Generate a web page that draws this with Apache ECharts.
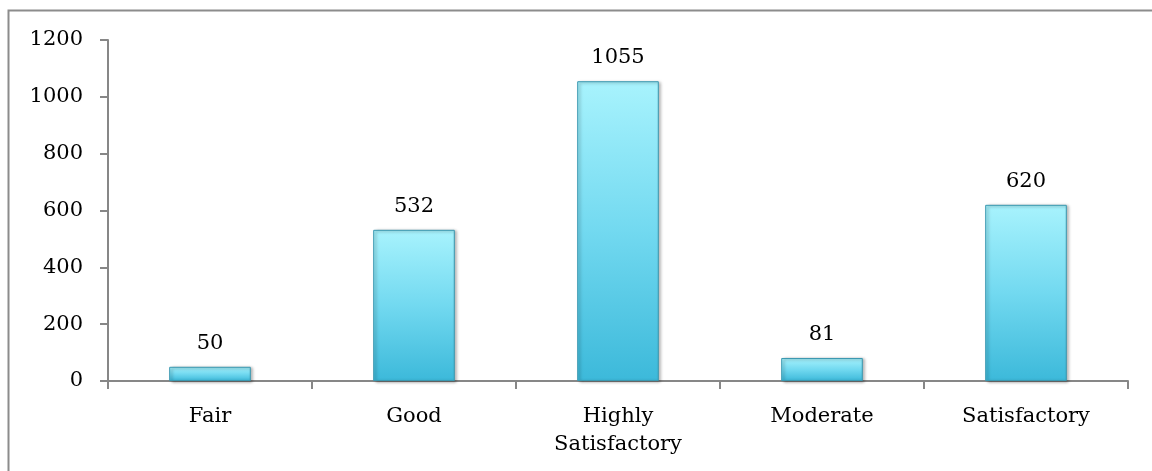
<!DOCTYPE html>
<html>
<head>
<meta charset="utf-8">
<script src="https://cdn.jsdelivr.net/npm/echarts@6/dist/echarts.min.js"></script>
<style>
  html, body { margin: 0; padding: 0; background: #fff; }
  #chart { width: 1152px; height: 471px; }
</style>
</head>
<body>
<div id="chart"></div>
<script>
// Rating categories and response counts
const categories = ['Fair', 'Good', 'Highly\nSatisfactory', 'Moderate', 'Satisfactory'];
const counts = [50, 532, 1055, 81, 620];
const yTicks = { min: 0, max: 1200, interval: 200 };

const FONT = 'DejaVu Serif';
const FONT_SIZE = 21;
const chart = echarts.init(document.getElementById('chart'));

chart.setOption({
  animation: false,
  backgroundColor: '#ffffff',
  graphic: [{
    type: 'rect',
    shape: { x: 8.5, y: 10.5, width: 1400, height: 800 },
    style: { fill: 'none', stroke: '#8c8c8c', lineWidth: 2 },
    silent: true
  }],
  grid: { left: 108, right: 24, top: 40, bottom: 90 },
  xAxis: {
    type: 'category',
    data: categories,
    axisLine: { lineStyle: { color: '#878787', width: 2 } },
    axisTick: { show: true, length: 8, lineStyle: { color: '#878787', width: 2 } },
    axisLabel: {
      color: '#000', fontFamily: FONT, fontSize: FONT_SIZE, margin: 22, lineHeight: 28,
      interval: 0
    }
  },
  yAxis: {
    type: 'value',
    min: yTicks.min, max: yTicks.max, interval: yTicks.interval,
    axisLine: { show: true, lineStyle: { color: '#878787', width: 2 } },
    axisTick: { show: true, length: 8, lineStyle: { color: '#878787', width: 2 } },
    splitLine: { show: false },
    axisLabel: {
      color: '#000', fontFamily: FONT, fontSize: FONT_SIZE, margin: 25,
      formatter: v => String(v)
    }
  },
  series: [{
    type: 'bar',
    data: counts,
    barWidth: '40%',
    itemStyle: {
      color: new echarts.graphic.LinearGradient(0, 0, 0, 1, [
        { offset: 0, color: '#a8f3fd' },
        { offset: 0.5, color: '#72d9f0' },
        { offset: 1, color: '#3cb9da' }
      ]),
      borderColor: '#3a98b0',
      borderWidth: 1,
      shadowColor: 'rgba(0,0,0,0.35)',
      shadowBlur: 3,
      shadowOffsetX: 2,
      shadowOffsetY: 1
    },
    label: {
      show: true,
      position: 'top',
      distance: 13,
      color: '#000',
      fontFamily: FONT,
      fontSize: FONT_SIZE
    }
  }]
});
</script>
</body>
</html>
